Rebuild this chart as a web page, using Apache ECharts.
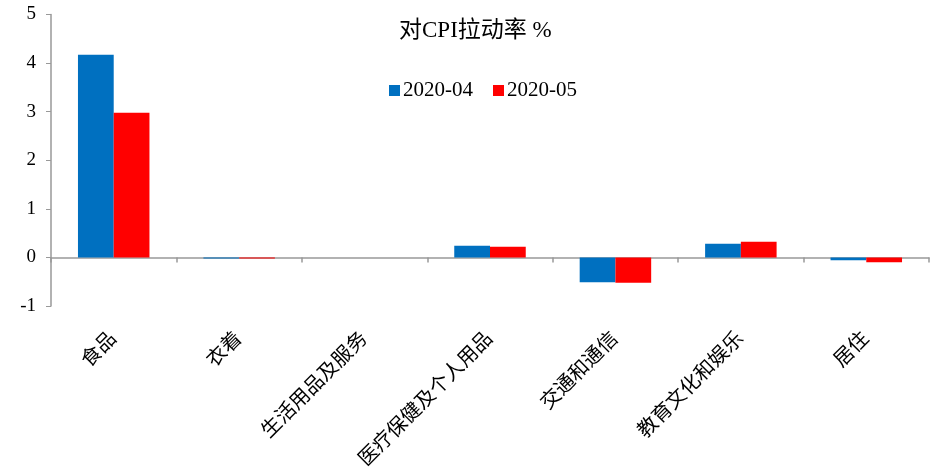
<!DOCTYPE html>
<html>
<head>
<meta charset="utf-8">
<script src="https://cdn.jsdelivr.net/npm/echarts@6/dist/echarts.min.js"></script>
<style>
  html, body { margin: 0; padding: 0; background: #fff; }
  #report { width: 934px; height: 475px; }
</style>
</head>
<body>
<div id="report"></div>
<script>
var categories = ['食品', '衣着', '生活用品及服务', '医疗保健及个人用品', '交通和通信', '教育文化和娱乐', '居住'];
var apr = [4.17, -0.02, 0, 0.24, -0.51, 0.28, -0.06];
var may = [2.98, -0.02, 0, 0.22, -0.52, 0.32, -0.10];
var seriesNames = ['2020-04', '2020-05'];

var serif = '"Liberation Serif", "Noto Sans CJK SC", serif';

var myChart = echarts.init(document.getElementById('report'));

var option = {
  animation: false,
  title: {
    text: '对CPI拉动率 %',
    left: 394,
    top: 14,
    textStyle: { fontFamily: serif, fontSize: 23, fontWeight: 'normal', color: '#000' }
  },
  legend: {
    top: 75,
    left: 384,
    itemWidth: 11,
    itemHeight: 11,
    itemGap: 20,
    icon: 'rect',
    textStyle: { fontFamily: serif, fontSize: 21, color: '#000', padding: [0, 0, 0, -2] },
    data: seriesNames
  },
  grid: { left: 51, right: 5, top: 14.5, bottom: 169, containLabel: false },
  xAxis: {
    type: 'category',
    data: categories,
    axisLine: { onZero: true, lineStyle: { color: '#999', width: 1.5 } },
    axisTick: { show: true, length: 5, lineStyle: { color: '#999', width: 1.5 } },
    axisLabel: {
      interval: 0,
      rotate: 45,
      margin: 30,
      fontFamily: serif,
      fontSize: 20,
      color: '#000'
    }
  },
  yAxis: {
    type: 'value',
    min: -1,
    max: 5,
    interval: 1,
    splitLine: { show: false },
    axisLine: { show: true, lineStyle: { color: '#999', width: 1.5 } },
    axisTick: { show: true, length: 5, lineStyle: { color: '#999' } },
    axisLabel: { fontFamily: serif, fontSize: 19, color: '#000', margin: 15 }
  },
  series: [
    {
      name: seriesNames[0],
      type: 'bar',
      data: apr,
      barGap: '0%',
      barCategoryGap: '43%',
      itemStyle: { color: '#0070C0' }
    },
    {
      name: seriesNames[1],
      type: 'bar',
      data: may,
      itemStyle: { color: '#FF0000' }
    }
  ]
};

myChart.setOption(option);
</script>
</body>
</html>
